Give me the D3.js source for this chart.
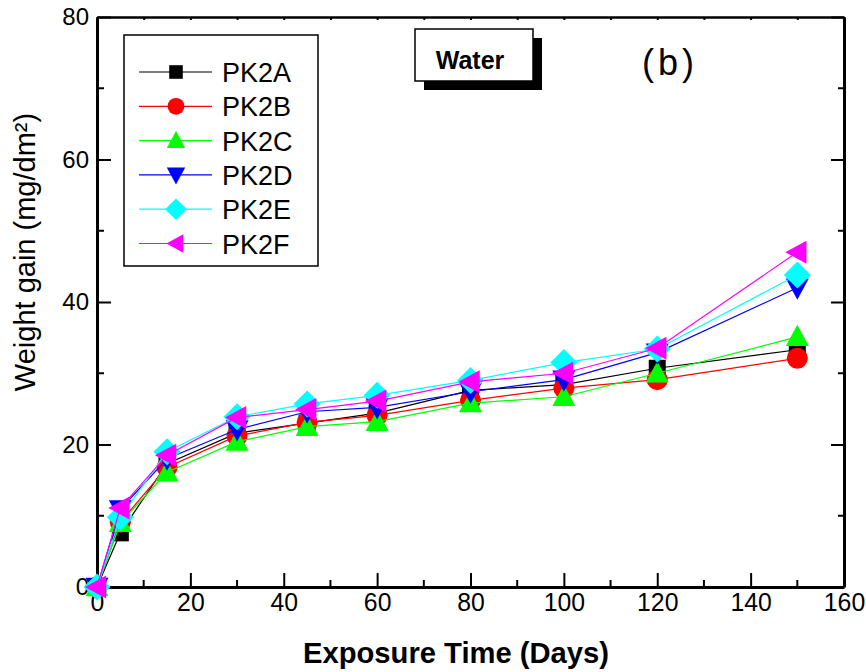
<!DOCTYPE html>
<html>
<head>
<meta charset="utf-8">
<script src="https://cdn.jsdelivr.net/npm/d3@7"></script>
<style>
  body { margin: 0; background: #fff; }
  svg { display: block; font-family: "Liberation Sans", Arial, sans-serif; }
</style>
</head>
<body>
<div id="chart"></div>
<script>
// exposure days
const days = [0, 5, 15, 30, 45, 60, 80, 100, 120, 150];

// weight gain per sample (mg/dm2)
const pk2a = [0, 7.6, 17.3, 21.6, 23.0, 24.4, 27.6, 28.4, 30.7, 33.3];
const pk2b = [0, 9.1, 16.8, 21.2, 23.1, 24.1, 26.2, 27.9, 29.1, 32.1];
const pk2c = [0, 9.0, 16.1, 20.4, 22.5, 23.2, 25.8, 26.7, 30.0, 35.1];
const pk2d = [0, 10.9, 18.0, 22.1, 24.6, 25.2, 27.4, 29.1, 32.9, 42.0];
const pk2e = [0, 9.8, 19.0, 23.9, 25.7, 26.9, 29.0, 31.5, 33.4, 43.8];
const pk2f = [0, 11.1, 18.5, 23.8, 24.9, 26.1, 28.8, 30.0, 33.5, 47.0];

const names = ["PK2A", "PK2B", "PK2C", "PK2D", "PK2E", "PK2F"];
const colors = ["#000000", "#ff0000", "#00ff00", "#0000ff", "#00ffff", "#ff00ff"];
const shapes = ["square", "circle", "up", "down", "diamond", "left"];

const xTicks = [0, 20, 40, 60, 80, 100, 120, 140, 160];
const yTicks = [0, 20, 40, 60, 80];

const series = [pk2a, pk2b, pk2c, pk2d, pk2e, pk2f].map(function (vals, i) {
    return {name: names[i], color: colors[i], shape: shapes[i],
        values: days.map(function (d, j) { return {x: d, y: vals[j]}; })};
});

const W = 866, H = 672;
const margin = {top: 17, right: 22, bottom: 85, left: 97};
const width = W - margin.left - margin.right;
const height = H - margin.top - margin.bottom;

const svg = d3.select("#chart").append("svg")
    .attr("width", W).attr("height", H);
const g = svg.append("g")
    .attr("transform", "translate(" + margin.left + "," + margin.top + ")");

const x = d3.scaleLinear().domain([0, 160]).range([0, width]);
const y = d3.scaleLinear().domain([0, 80]).range([height, 0]);

// marker path builder, k = scale factor
function shapePath(shape, k) {
    if (shape === "square") {
        let s = 8.5 * k;
        return "M" + (-s) + "," + (-s) + "H" + s + "V" + s + "H" + (-s) + "Z";
    }
    if (shape === "circle") {
        let r = 10.5 * k;
        return "M" + r + ",0A" + r + "," + r + " 0 1,1 " + (-r) + ",0A" + r + "," + r + " 0 1,1 " + r + ",0Z";
    }
    let a = 11.5 * k;
    if (shape === "up") return "M0," + (-a * 1.05) + "L" + a + "," + (a * 0.8) + "L" + (-a) + "," + (a * 0.8) + "Z";
    if (shape === "down") return "M0," + (a * 1.05) + "L" + a + "," + (-a * 0.8) + "L" + (-a) + "," + (-a * 0.8) + "Z";
    if (shape === "left") return "M" + (-a * 1.05) + ",0L" + (a * 0.8) + "," + (-a) + "L" + (a * 0.8) + "," + a + "Z";
    let d = 13.5 * k;
    return "M0," + (-d) + "L" + d + ",0L0," + d + "L" + (-d) + ",0Z";
}

// axes
function styleAxis(sel, w) {
    sel.selectAll(".domain").attr("stroke", "#000").attr("stroke-width", w);
    sel.selectAll(".tick line").attr("stroke", "#000").attr("stroke-width", 2);
}

const xAxisBottom = g.append("g").attr("transform", "translate(0," + height + ")")
    .call(d3.axisBottom(x).tickValues(xTicks).tickSizeInner(-14).tickSizeOuter(0).tickPadding(10));
xAxisBottom.append("g").selectAll("line").data(d3.range(10, 160, 20)).join("line")
    .attr("x1", x).attr("x2", x).attr("y1", 0).attr("y2", -7)
    .attr("stroke", "#000").attr("stroke-width", 2);
styleAxis(xAxisBottom, 3);
xAxisBottom.selectAll(".tick text").attr("font-size", 26).attr("fill", "#000")
    .attr("dy", "0.55em")
    .attr("textLength", function (d) { return String(d).length * 13.8; })
    .attr("lengthAdjust", "spacingAndGlyphs");

const yAxisLeft = g.append("g")
    .call(d3.axisLeft(y).tickValues(yTicks).tickSizeInner(-14).tickSizeOuter(0));
yAxisLeft.append("g").selectAll("line").data(d3.range(10, 80, 20)).join("line")
    .attr("y1", y).attr("y2", y).attr("x1", 0).attr("x2", 7)
    .attr("stroke", "#000").attr("stroke-width", 2);
styleAxis(yAxisLeft, 3);
yAxisLeft.selectAll(".tick text").attr("font-size", 24).attr("fill", "#000").attr("x", -8);

const yAxisRight = g.append("g").attr("transform", "translate(" + width + ",0)")
    .call(d3.axisRight(y).tickValues(yTicks).tickSizeInner(-13).tickSizeOuter(0).tickFormat(""));
yAxisRight.append("g").selectAll("line").data(d3.range(10, 80, 20)).join("line")
    .attr("y1", y).attr("y2", y).attr("x1", 0).attr("x2", -6)
    .attr("stroke", "#000").attr("stroke-width", 2);
styleAxis(yAxisRight, 3);

const xAxisTop = g.append("g")
    .call(d3.axisTop(x).tickValues(d3.range(0, 161, 10)).tickSizeInner(-3).tickSizeOuter(0).tickFormat(""));
styleAxis(xAxisTop, 2.5);

// axis titles
svg.append("text")
    .attr("x", 456).attr("y", 663)
    .attr("text-anchor", "middle").attr("font-size", 30).attr("font-weight", "bold")
    .attr("textLength", 306).attr("lengthAdjust", "spacingAndGlyphs")
    .text("Exposure Time (Days)");

svg.append("text")
    .attr("transform", "translate(35," + 252 + ") rotate(-90)")
    .attr("text-anchor", "middle").attr("font-size", 29)
    .text("Weight gain (mg/dm²)");

// series
const line = d3.line().x(function (d) { return x(d.x); }).y(function (d) { return y(d.y); });
series.forEach(function (s) {
    const sg = g.append("g");
    sg.append("path").datum(s.values)
        .attr("fill", "none").attr("stroke", s.color).attr("stroke-width", 1.2)
        .attr("d", line);
    sg.selectAll("path.mk").data(s.values).join("path")
        .attr("class", "mk")
        .attr("transform", function (d) { return "translate(" + x(d.x) + "," + y(d.y) + ")"; })
        .attr("d", shapePath(s.shape, 1))
        .attr("fill", s.color);
});

// legend
const lg = svg.append("g");
lg.append("rect").attr("x", 124).attr("y", 35).attr("width", 194).attr("height", 231)
    .attr("fill", "#fff").attr("stroke", "#000").attr("stroke-width", 1.5);
series.forEach(function (s, i) {
    const yy = 72 + i * 34.3;
    lg.append("line").attr("x1", 139).attr("x2", 212).attr("y1", yy).attr("y2", yy)
        .attr("stroke", s.color).attr("stroke-width", 1.2);
    lg.append("path").attr("transform", "translate(176," + yy + ")")
        .attr("d", shapePath(s.shape, 0.8)).attr("fill", s.color);
    lg.append("text").attr("x", 222).attr("y", yy + 10).attr("font-size", 27)
        .text(s.name);
});

// "Water" box with shadow
svg.append("rect").attr("x", 424).attr("y", 38).attr("width", 118).attr("height", 52).attr("fill", "#000");
svg.append("rect").attr("x", 415).attr("y", 29).attr("width", 118).attr("height", 52)
    .attr("fill", "#fff").attr("stroke", "#000").attr("stroke-width", 1.5);
svg.append("text").attr("x", 470).attr("y", 69).attr("text-anchor", "middle")
    .attr("font-size", 25).attr("font-weight", "bold").text("Water");

svg.append("text").attr("x", 670).attr("y", 75).attr("text-anchor", "middle")
    .attr("font-size", 36).attr("letter-spacing", 4).text("(b)");
</script>
</body>
</html>
